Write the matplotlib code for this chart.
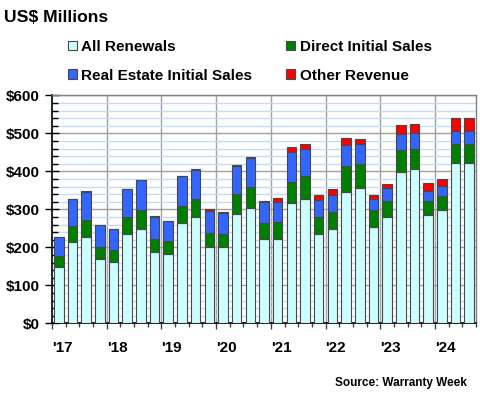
import matplotlib
matplotlib.use("Agg")
import matplotlib.pyplot as plt
import numpy as np
from matplotlib.ticker import MultipleLocator, FixedLocator

plt.rcParams['font.family'] = ['Liberation Sans', 'DejaVu Sans']
plt.rcParams['font.weight'] = 'bold'

quarters = ["2017Q1", "2017Q2", "2017Q3", "2017Q4",
            "2018Q1", "2018Q2", "2018Q3", "2018Q4",
            "2019Q1", "2019Q2", "2019Q3", "2019Q4",
            "2020Q1", "2020Q2", "2020Q3", "2020Q4",
            "2021Q1", "2021Q2", "2021Q3", "2021Q4",
            "2022Q1", "2022Q2", "2022Q3", "2022Q4",
            "2023Q1", "2023Q2", "2023Q3", "2023Q4",
            "2024Q1", "2024Q2", "2024Q3"]
renewals = [149, 213, 228, 168, 162, 235, 249, 187, 182, 263, 279, 202,
            200, 288, 303, 221, 223, 316, 328, 235, 247, 346, 355, 253,
            279, 399, 405, 284, 298, 421, 421]
direct = [29, 42, 43, 32, 31, 45, 49, 34, 34, 47, 48, 36,
          35, 52, 55, 42, 43, 57, 59, 45, 46, 67, 64, 44,
          42, 56, 54, 39, 37, 50, 50]
real_estate = [48, 71, 75, 58, 54, 73, 79, 58, 53, 78, 76, 58,
               54, 73, 78, 55, 54, 78, 71, 44, 44, 56, 52, 30,
               34, 42, 41, 26, 26, 34, 34]
other = [0, 1, 1, 0, 0, 1, 0, 3, 0, 0, 4, 4,
         5, 4, 2, 5, 11, 14, 14, 14, 16, 19, 13, 11,
         12, 25, 24, 19, 18, 36, 34]
year_labels = ["'17", "'18", "'19", "'20", "'21", "'22", "'23", "'24"]
y_labels = ["$0", "$100", "$200", "$300", "$400", "$500", "$600"]

series = [("All Renewals", renewals, "#CCFFFF"),
          ("Direct Initial Sales", direct, "#008000"),
          ("Real Estate Initial Sales", real_estate, "#3366FF"),
          ("Other Revenue", other, "#FF0000")]

fig = plt.figure(figsize=(4.8, 4.0), dpi=100)
ax = fig.add_axes([52/480, 1-323.3/400, 424/480, 228/400])

x = np.arange(len(quarters))
bottom = np.zeros(len(quarters))
handles = {}
for name, vals, col in series:
    v = np.array(vals, dtype=float)
    b = ax.bar(x, v, bottom=bottom, width=0.7, color=col, edgecolor="#484848",
               linewidth=0.8, zorder=3, label=name)
    handles[name] = b
    bottom += v

ax.set_xlim(-0.5, len(quarters) - 0.5)
ax.set_ylim(0, 600)

# y axis
ax.yaxis.set_minor_locator(MultipleLocator(20))
ax.set_yticks(np.arange(0, 601, 100))
ax.set_yticklabels(y_labels, fontsize=11, fontweight='bold')
ax.tick_params(axis='y', which='major', direction='inout', length=10, width=1, pad=4, color='black')
ax.tick_params(axis='y', which='minor', direction='in', length=4, width=1, color='black')
ax.grid(axis='y', which='minor', color='#C4DCF4', linewidth=1, zorder=0)
ax.grid(axis='y', which='major', color='#A0A0A0', linewidth=1, zorder=0)

# x axis
year_starts = np.arange(0, len(quarters), 4) - 0.5
ax.set_xticks(year_starts)
ax.set_xticklabels(year_labels, fontsize=11, fontweight='bold', ha='left')
ax.xaxis.set_minor_locator(FixedLocator(np.arange(len(quarters) + 1) - 0.5))
ax.tick_params(axis='x', which='major', direction='out', length=4, width=1, pad=9, color='#404040')
ax.tick_params(axis='x', which='minor', direction='out', length=3, width=1, color='#404040')
for xs in year_starts[1:]:
    ax.axvline(xs, color='#A0A0A0', linewidth=1, zorder=1)

for s in ['top', 'right']:
    ax.spines[s].set_color('#808080')
    ax.spines[s].set_linewidth(1)
for s in ['left', 'bottom']:
    ax.spines[s].set_color('black')
    ax.spines[s].set_linewidth(1.2)

fig.text(4/480, 1-10/400, "US$ Millions", fontsize=12.6, fontweight='bold', va='top', ha='left')

order = ["All Renewals", "Real Estate Initial Sales", "Direct Initial Sales", "Other Revenue"]
leg = fig.legend([handles[n] for n in order], order, ncol=2, loc='upper left',
                 bbox_to_anchor=(66/480, 1-38.5/400), frameon=False,
                 prop={'size': 11, 'weight': 'bold'},
                 handlelength=0.6, handleheight=0.6, handletextpad=0.3,
                 columnspacing=2.2, labelspacing=0.95, borderpad=0.1, borderaxespad=0)

fig.text(467/480, 1-386/400, "Source: Warranty Week", fontsize=8.5, fontweight='bold',
         ha='right', va='baseline')

fig.savefig("out.png", dpi=100)
